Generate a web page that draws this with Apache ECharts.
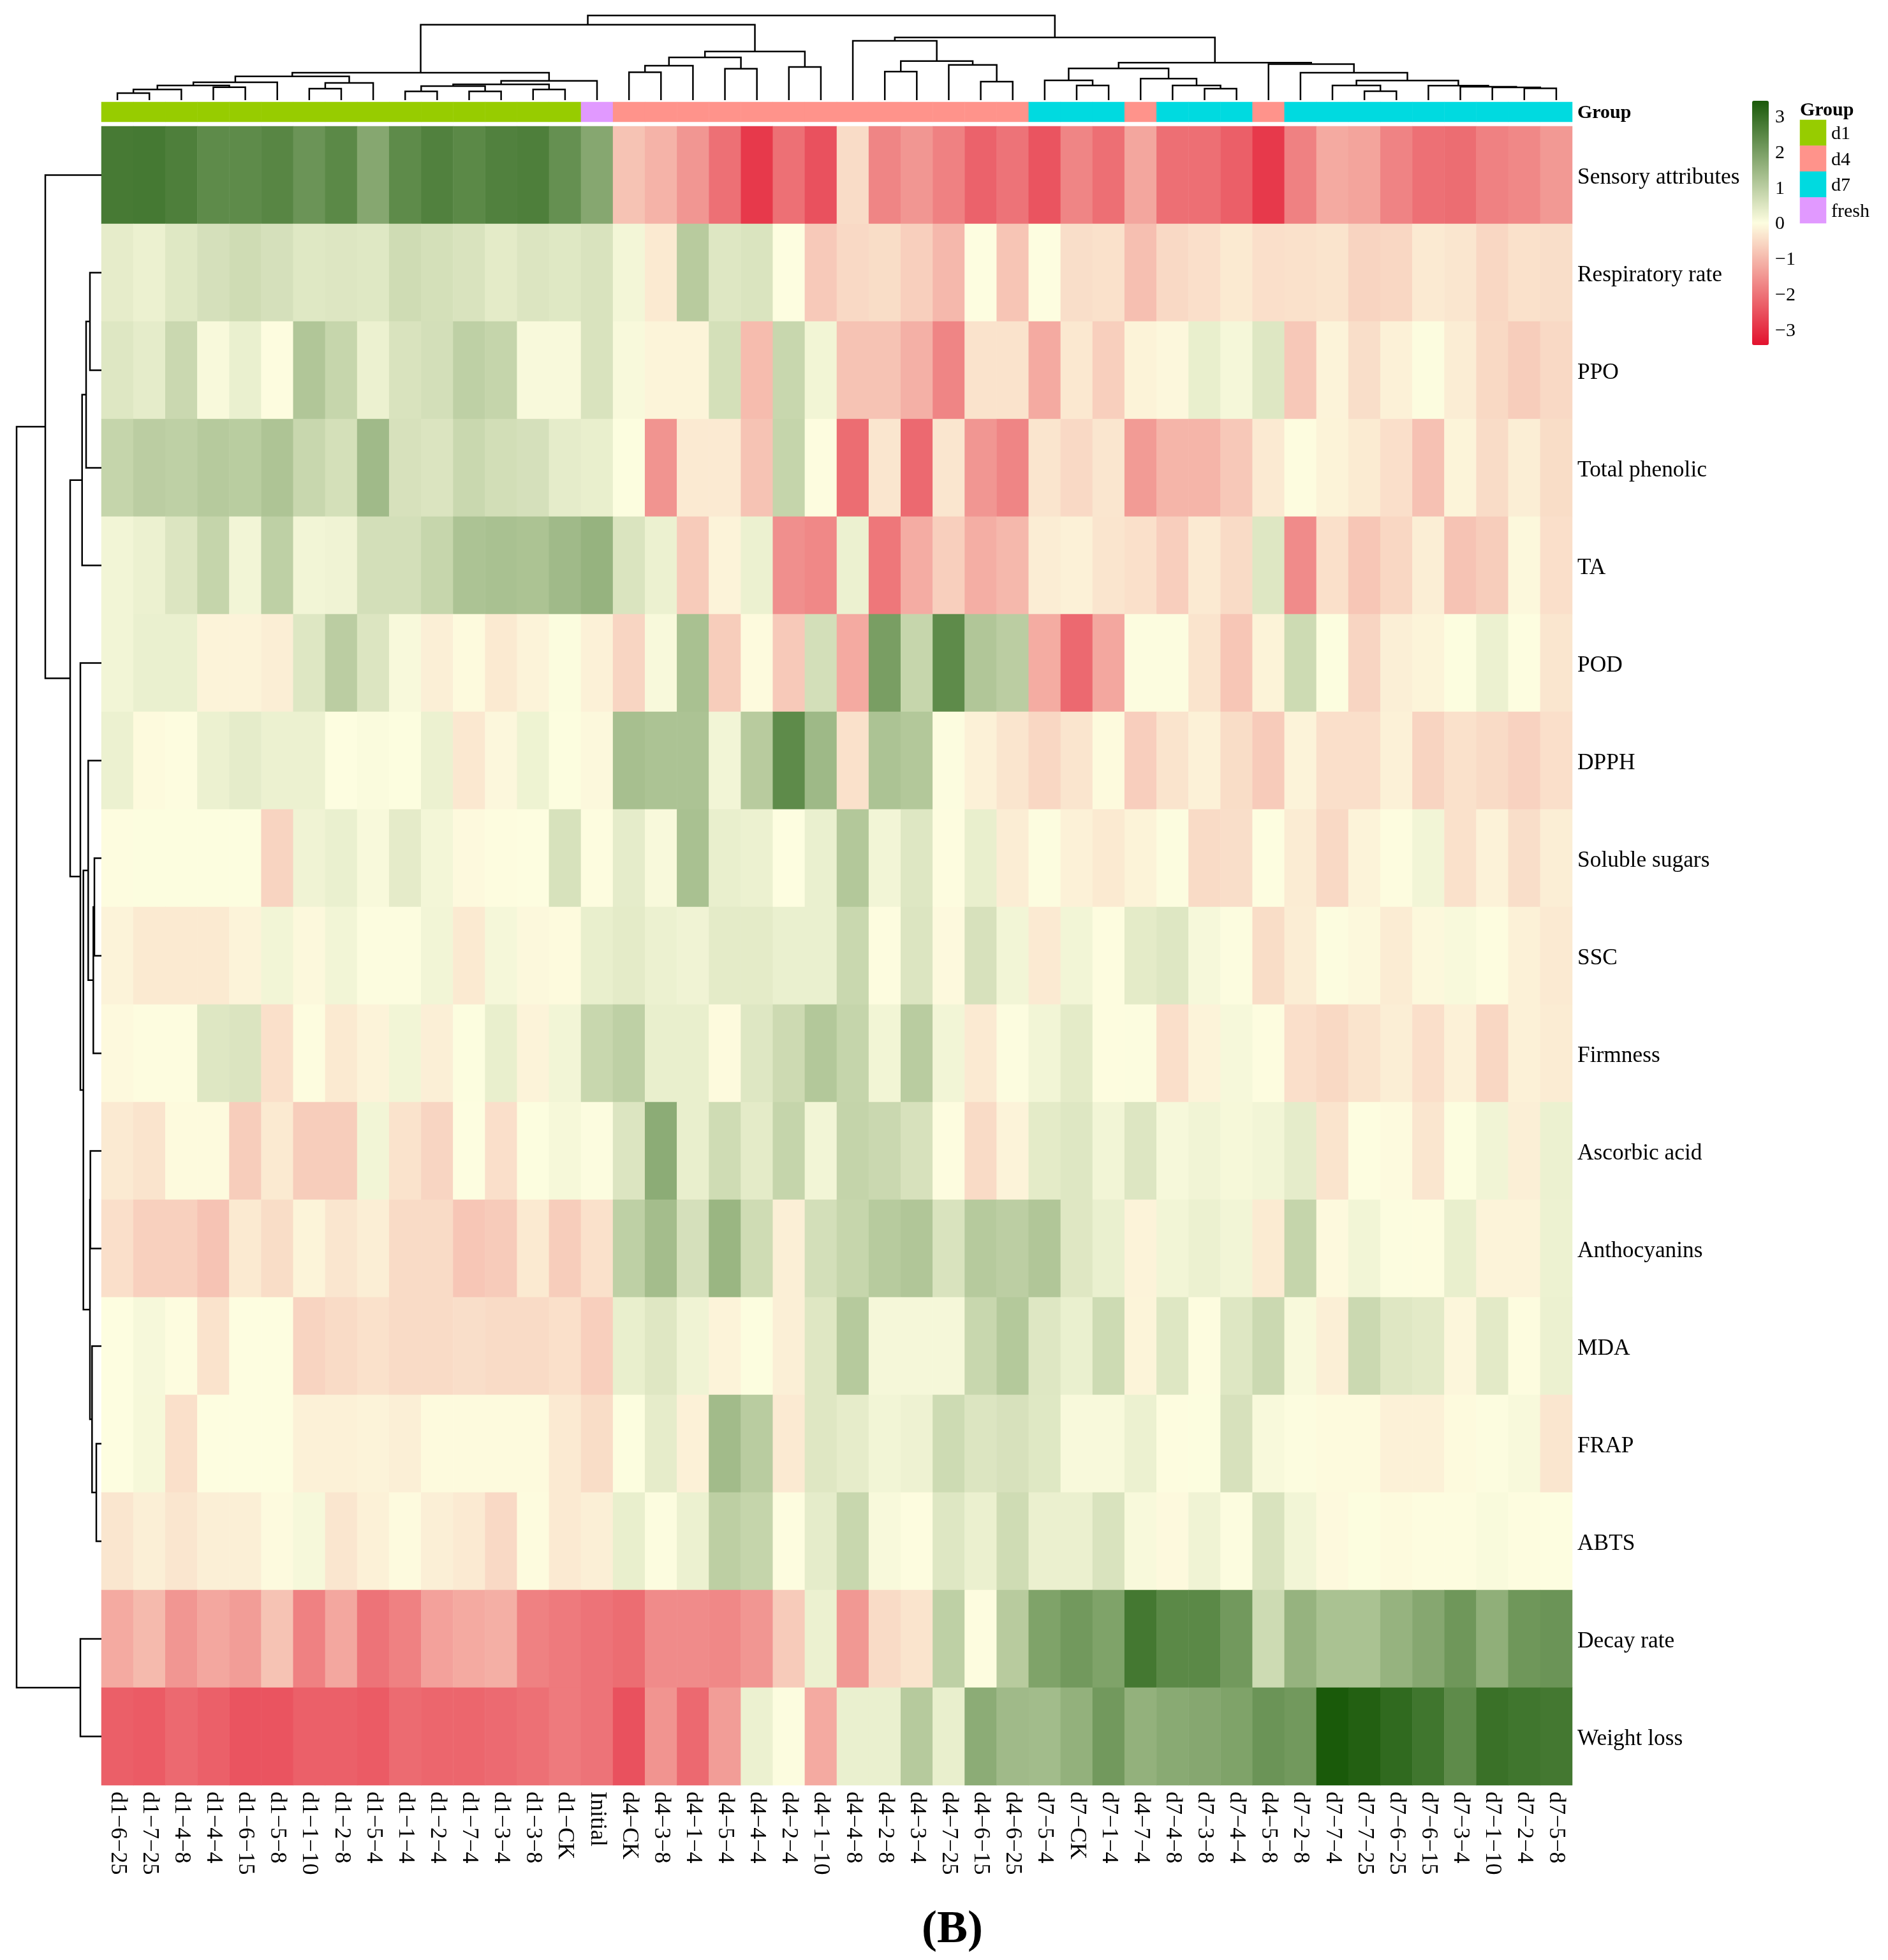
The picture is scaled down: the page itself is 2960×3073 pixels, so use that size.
<!DOCTYPE html>
<html><head><meta charset="utf-8">
<style>html,body{margin:0;padding:0;background:#fff}#c{width:2960px;height:3073px}</style>
<script src="https://cdn.jsdelivr.net/npm/echarts@6/dist/echarts.min.js"></script>
</head><body><div id="c"></div>
<script>
const colLabels = ['d1−6−25','d1−7−25','d1−4−8','d1−4−4','d1−6−15','d1−5−8','d1−1−10','d1−2−8','d1−5−4','d1−1−4','d1−2−4','d1−7−4','d1−3−4','d1−3−8','d1−CK','Initial','d4−CK','d4−3−8','d4−1−4','d4−5−4','d4−4−4','d4−2−4','d4−1−10','d4−4−8','d4−2−8','d4−3−4','d4−7−25','d4−6−15','d4−6−25','d7−5−4','d7−CK','d7−1−4','d4−7−4','d7−4−8','d7−3−8','d7−4−4','d4−5−8','d7−2−8','d7−7−4','d7−7−25','d7−6−25','d7−6−15','d7−3−4','d7−1−10','d7−2−4','d7−5−8'];
const rowLabels = ['Sensory attributes','Respiratory rate','PPO','Total phenolic','TA','POD','DPPH','Soluble sugars','SSC','Firmness','Ascorbic acid','Anthocyanins','MDA','FRAP','ABTS','Decay rate','Weight loss'];
const groupNames = ['d1','d4','d7','fresh'];
const groupColors = ['#97CC00','#FF938B','#00DAE0','#E199FF'];
const colGroups = [0,0,0,0,0,0,0,0,0,0,0,0,0,0,0,3,1,1,1,1,1,1,1,1,1,1,1,1,1,2,2,2,1,2,2,2,1,2,2,2,2,2,2,2,2,2];
const colorbarTicks = [-3,-2,-1,0,1,2,3];

const sensory = [2.75,2.78,2.65,2.4,2.4,2.5,2.2,2.45,1.8,2.4,2.6,2.45,2.6,2.65,2.3,1.8,-.85,-1.07,-1.5,-2.05,-2.85,-2.05,-2.5,-.48,-1.75,-1.5,-1.8,-2.25,-2,-2.45,-1.75,-2.07,-1.27,-2.07,-2.07,-2.3,-2.85,-1.8,-1.2,-1.3,-1.77,-2.05,-2.1,-1.8,-1.7,-1.45];
const respiratory = [.35,.25,.45,.6,.7,.6,.45,.48,.45,.7,.62,.55,.38,.5,.45,.55,.15,-.28,1.05,.47,.53,0,-.75,-.52,-.47,-.67,-1,0,-.82,0,-.45,-.4,-.9,-.52,-.43,-.28,-.43,-.4,-.36,-.6,-.55,-.27,-.33,-.55,-.4,-.45];
const ppo = [.47,.36,.77,.08,.28,-.02,1.15,.83,.25,.55,.63,.95,.85,.08,.08,.55,.08,-.13,-.13,.62,-.95,.8,.17,-.85,-.85,-1.12,-1.75,-.38,-.38,-1.2,-.3,-.67,-.15,-.08,.3,.12,.47,-.77,-.14,-.45,-.17,.02,-.23,-.53,-.7,-.52];
const phenolic = [.85,1,.95,1.08,1.02,1.2,.8,.62,1.4,.58,.52,.78,.65,.6,.36,.3,.01,-1.53,-.27,-.27,-.85,.85,-.01,-2.1,-.33,-2.15,-.33,-1.5,-1.75,-.35,-.52,-.33,-1.43,-1.05,-1.05,-.77,-.27,-.01,-.15,-.26,-.43,-.87,-.13,-.48,-.22,-.47];
const ta = [.16,.25,.5,.85,.16,.95,.16,.2,.63,.63,.83,1.22,1.27,1.23,1.4,1.55,.53,.25,-.72,-.14,.25,-1.6,-1.7,.25,-1.95,-1.17,-.67,-1.15,-1,-.23,-.17,-.35,-.42,-.68,-.27,-.5,.47,-1.65,-.42,-.8,-.55,-.22,-.85,-.7,-.07,-.43];
const pod = [.16,.28,.28,-.14,-.14,-.22,.47,1,.5,.08,-.2,-.05,-.28,-.14,.03,-.18,-.58,.08,1.27,-.7,-.05,-.75,.63,-1.2,2,.83,2.4,1.15,1,-1.18,-2.15,-1.25,.02,.02,-.37,-.8,-.15,.72,.01,-.58,-.2,-.13,.01,.25,0,-.33];
const dpph = [.25,-.05,-.01,.25,.36,.25,.25,0,.05,.01,.25,-.3,-.08,.22,.01,-.07,1.3,1.22,1.22,.16,1.05,2.4,1.43,-.4,1.22,1.12,.02,-.18,-.35,-.55,-.35,-.05,-.68,-.36,-.17,-.47,-.72,-.14,-.43,-.43,-.18,-.6,-.4,-.5,-.62,-.43];
const sugars = [-.01,.01,.01,.01,.01,-.6,.2,.28,.08,.37,.15,-.06,-.02,0,.57,-.02,.36,.08,1.27,.3,.25,0,.28,1.12,.16,.47,-.01,.3,-.23,.02,-.17,-.28,-.15,.02,-.5,-.45,0,-.24,-.52,-.14,-.01,.16,-.4,-.16,-.45,-.22];
const ssc = [-.14,-.28,-.28,-.28,-.14,.16,-.07,.16,.02,.02,.16,-.28,.12,-.07,-.05,.3,.38,.26,.2,.38,.38,.28,.28,.78,-.01,.5,-.06,.58,.16,-.27,.16,-.01,.38,.47,.1,.02,-.47,-.23,.02,-.07,-.24,-.07,.08,-.01,-.18,-.27];
const firmness = [-.06,-.01,-.01,.47,.52,-.42,-.01,-.28,-.14,.16,-.2,.01,.3,-.14,.16,.8,.95,.3,.3,-.05,.47,.73,1.12,.85,.17,1.03,.16,-.27,.02,.16,.38,-.01,.02,-.43,-.14,.1,-.01,-.43,-.53,-.37,-.22,-.43,-.17,-.55,-.17,-.25];
const ascorbic = [-.27,-.37,-.05,-.05,-.7,-.28,-.7,-.7,.16,-.38,-.58,0,-.43,.01,.11,.02,.5,1.7,.3,.7,.38,.85,.16,.86,.77,.58,-.01,-.5,-.14,.38,.47,.16,.48,.1,.18,.11,.16,.36,-.37,0,-.04,-.33,.01,.18,-.2,.25];
const anthocyanins = [-.43,-.66,-.66,-.85,-.28,-.47,-.13,-.33,-.22,-.5,-.5,-.8,-.72,-.28,-.7,-.4,.95,1.35,.6,1.5,.7,-.2,.63,.83,1.06,1.15,.55,1.07,.98,1.15,.46,.28,-.14,.16,.26,.16,-.26,.85,-.06,.16,.02,-.01,.3,-.14,-.14,.24];
const mda = [0,.1,-.01,-.38,0,0,-.6,-.5,-.4,-.5,-.5,-.45,-.5,-.5,-.42,-.67,.3,.46,.2,-.14,.01,-.2,.46,1.08,.12,.12,.12,.8,1.1,.47,.28,.72,-.13,.47,-.01,.47,.76,.08,-.2,.76,.46,.4,-.1,.4,-.02,.25];
const frap = [0,.11,-.42,0,0,0,-.17,-.18,-.14,-.2,-.05,-.05,-.05,-.05,-.27,-.47,.01,.35,-.18,1.38,1.03,-.27,.46,.35,.16,.23,.72,.5,.58,.45,.08,.08,.25,-.01,.01,.58,.08,.02,-.05,-.05,-.18,-.18,-.05,.02,.08,-.33];
const abts = [-.33,-.2,-.33,-.2,-.2,-.04,.1,-.33,-.18,-.04,-.2,-.27,-.52,-.03,-.27,-.2,.3,.02,.25,.97,.85,-.01,.36,.8,.08,-.01,.47,.27,.7,.27,.27,.55,.08,-.06,.2,.02,.55,.16,-.06,.01,-.05,-.01,-.01,.06,-.01,0];
const decay = [-1.2,-.97,-1.5,-1.25,-1.4,-.85,-1.8,-1.25,-2,-1.8,-1.33,-1.2,-1.13,-1.8,-1.9,-2,-2.1,-1.65,-1.65,-1.7,-1.5,-.72,.25,-1.47,-.5,-.37,.95,-.01,1.05,1.9,2.1,1.9,2.8,2.45,2.45,2.1,.72,1.55,1.25,1.25,1.55,1.8,2.15,1.65,2.15,2.2];
const weightLoss = [-2.3,-2.35,-2.15,-2.28,-2.45,-2.45,-2.28,-2.28,-2.35,-2.12,-2.2,-2.2,-2.13,-2.05,-1.9,-2,-2.5,-1.53,-2.15,-1.4,.25,.02,-1.2,.28,.28,1.07,.3,1.7,1.4,1.37,1.6,2.1,1.6,1.75,1.8,1.9,2.2,2.1,3.43,3.3,3.1,2.85,2.4,2.95,2.85,2.8];
const rowValues = [sensory,respiratory,ppo,phenolic,ta,pod,dpph,sugars,ssc,firmness,ascorbic,anthocyanins,mda,frap,abts,decay,weightLoss];

// Dendrograms: [left child, right child, merge height]; a number is a leaf index.
const colTreeD1 = [[[[[[[0,1,11],2,16.7],[3,4,20.3],23],5,28],[[6,7,18],8,27],37.3],[[[[9,10,13.7],[11,12,13.7],22],[13,14,16.7],24.7],15,30.3],43],[[[[16,17,43.7],18,54],[19,20,49.3],67],[21,22,52],76.3],118.3];
const colTreeD4 = [23,[[24,25,44.7],[26,[27,28,29],55.3],61.3],93];
const colTreeD7 = [[[29,[30,31,23],31],[32,[33,[34,35,18],23],33.7],49.7],[36,[37,[[38,[39,40,13.9],23.1],[41,[42,[43,[44,45,18.5],20],21.1],22.7],30.7],43],56.4],58.7];
const colTree = [colTreeD1,[colTreeD4,colTreeD7,98.3],132.7];
const rowTree = [[0,[[[[1,2,18],3,24],4,30.3],[5,[[6,[[7,8,11],9,12.7],20.7],[[10,11,17.3],[12,[13,14,8],14.7],18],28.3],33],49],88],[15,16,33],133];

function flattenTree(node, out) {
  if (typeof node === 'number') return {p: node + 0.5, h: 0};
  const a = flattenTree(node[0], out), b = flattenTree(node[1], out), h = node[2];
  out.push([a.p, a.h, b.p, b.h, h]);
  return {p: (a.p + b.p) / 2, h: h};
}
const colLinks = []; flattenTree(colTree, colLinks);
const rowLinks = []; flattenTree(rowTree, rowLinks);

const serif = 'Liberation Serif';
const heatData = [];
rowValues.forEach((r, y) => r.forEach((v, x) => heatData.push([x, y, v])));
const annotData = colGroups.map((g, x) => [x, 0, g]);
const legendData = groupNames.map((n, i) => [0, i, i]);

function dendroRender(horizontal) {
  return function (params, api) {
    const m = (p, h) => api.coord(horizontal ? [h, p] : [p, h]);
    const x1 = api.value(0), h1 = api.value(1), x2 = api.value(2), h2 = api.value(3), h = api.value(4);
    return {type: 'polyline', shape: {points: [m(x1, h1), m(x1, h), m(x2, h), m(x2, h2)]},
      style: {stroke: '#000', lineWidth: 2.5, fill: null, lineCap: 'butt', lineJoin: 'miter'}};
  };
}
const L = 159, W = 2306;
const hiddenCat = (gridIndex, data) => ({gridIndex, type: 'category', data, show: false});
const labelAxis = (gridIndex, data, label, inverse) => ({gridIndex, type: 'category', data, inverse: !!inverse, position: 'right',
  axisLine: {show: false}, axisTick: {show: false}, splitLine: {show: false},
  axisLabel: Object.assign({interval: 0, margin: 8, fontFamily: serif, color: '#000'}, label)});
const option = {
  backgroundColor: '#fff',
  animation: false,
  textStyle: {fontFamily: serif, color: '#000'},
  grid: [
    {left: L, top: 198, width: W, height: 2601},
    {left: L, top: 160, width: W, height: 31},
    {left: L, top: 0, width: W, height: 157},
    {left: 0, top: 198, width: 159, height: 2601},
    {left: 2822, top: 188, width: 41, height: 162},
    {left: 2747, top: 160, width: 26, height: 383},
    {left: L, top: 202, width: W, height: 2601},   // row label rail
    {left: L, top: 162, width: W, height: 31},     // "Group" label rail
    {left: 2822, top: 190, width: 41, height: 162} // legend label rail
  ],
  xAxis: [
    {gridIndex: 0, type: 'category', data: colLabels, position: 'bottom', axisLine: {show: false}, axisTick: {show: false}, splitLine: {show: false},
      axisLabel: {interval: 0, rotate: -90, margin: 10, fontFamily: serif, fontSize: 36, color: '#000', hideOverlap: false}},
    hiddenCat(1, colLabels),
    {gridIndex: 2, type: 'value', min: 0, max: colLabels.length, show: false},
    {gridIndex: 3, type: 'value', min: 0, max: 159, inverse: true, show: false},
    hiddenCat(4, ['Group']),
    {gridIndex: 5, type: 'value', min: 0, max: 1, show: false},
    hiddenCat(6, colLabels),
    hiddenCat(7, colLabels),
    hiddenCat(8, ['Group'])
  ],
  yAxis: [
    {gridIndex: 0, type: 'category', data: rowLabels, inverse: true, show: false},
    {gridIndex: 1, type: 'category', data: ['Group'], show: false},
    {gridIndex: 2, type: 'value', min: 0, max: 157, show: false},
    {gridIndex: 3, type: 'value', min: 0, max: rowLabels.length, inverse: true, show: false},
    {gridIndex: 4, type: 'category', data: groupNames, inverse: true, show: false},
    {gridIndex: 5, type: 'value', min: -3.43, max: 3.43, position: 'right', axisLine: {show: false}, axisTick: {show: false}, splitLine: {show: false},
      axisLabel: {customValues: colorbarTicks, margin: 10, fontFamily: serif, fontSize: 30, color: '#000',
        formatter: v => (v < 0 ? '−' + Math.abs(v) : String(v))}},
    labelAxis(6, rowLabels, {fontSize: 35.4}, true),
    labelAxis(7, ['Group'], {fontSize: 30, fontWeight: 'bold'}),
    labelAxis(8, groupNames, {fontSize: 30}, true)
  ],
  visualMap: [
    {type: 'continuous', seriesIndex: 0, dimension: 2, min: -3.43, max: 3.43, left: 2747, top: 158, padding: 0,
      itemWidth: 26, itemHeight: 383, calculable: false, hoverLink: false, realtime: false, text: null, showLabel: false,
      inRange: {color: ['#E2112D', '#FDFDE0', '#1A5A0A']}},
    {type: 'piecewise', show: false, seriesIndex: [1, 4], dimension: 2,
      pieces: groupColors.map((c, i) => ({value: i, color: c}))}
  ],
  series: [
    {type: 'heatmap', xAxisIndex: 0, yAxisIndex: 0, data: heatData, silent: true, progressive: 0},
    {type: 'heatmap', xAxisIndex: 1, yAxisIndex: 1, data: annotData, silent: true, progressive: 0},
    {type: 'custom', xAxisIndex: 2, yAxisIndex: 2, data: colLinks, renderItem: dendroRender(false), clip: false, silent: true, encode: {x: [0, 2], y: [1, 3, 4]}},
    {type: 'custom', xAxisIndex: 3, yAxisIndex: 3, data: rowLinks, renderItem: dendroRender(true), clip: false, silent: true, encode: {x: [1, 3, 4], y: [0, 2]}},
    {type: 'heatmap', xAxisIndex: 4, yAxisIndex: 4, data: legendData, silent: true, progressive: 0}
  ],
  graphic: [
    {type: 'text', left: 2822, top: 158, silent: true, style: {text: 'Group', fontFamily: serif, fontSize: 30, fontWeight: 'bold', fill: '#000'}},
    {type: 'text', left: 1445, top: 2990, silent: true, style: {text: '(B)', fontFamily: serif, fontSize: 72, fontWeight: 'bold', fill: '#000'}}
  ]
};
const chart = echarts.init(document.getElementById('c'), null, {renderer: 'canvas', width: 2960, height: 3073});
chart.setOption(option);
</script></body></html>
